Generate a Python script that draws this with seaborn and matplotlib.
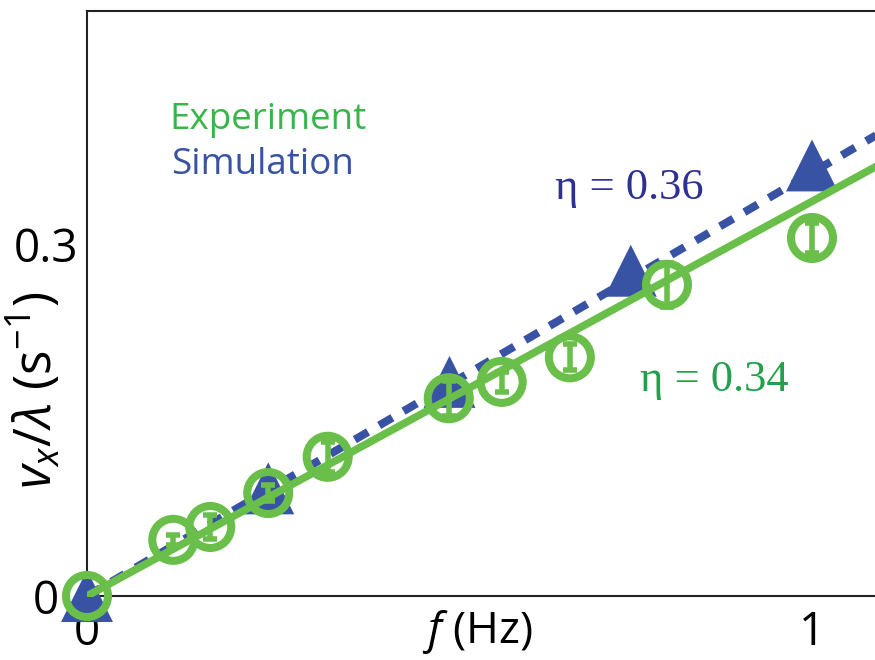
import matplotlib
matplotlib.use("Agg")
import matplotlib.pyplot as plt
import matplotlib.transforms as mtransforms
import seaborn as sns
import pandas as pd

# ---- data ----
exp_f = [0.0, 0.119, 0.170, 0.250, 0.332, 0.499, 0.572, 0.666, 0.800, 1.000]
exp_v = [0.0, 0.048, 0.059, 0.088, 0.119, 0.169, 0.183, 0.204, 0.266, 0.306]
exp_err = [0.0, 0.004, 0.010, 0.007, 0.013, 0.015, 0.0085, 0.011, 0.019, 0.013]

sim_f = [0.0, 0.25, 0.50, 0.75, 1.00]
sim_v = [0.0, 0.092, 0.183, 0.278, 0.368]

fit_f = [0.0, 1.1]
sim_fit_v = [0.0, 0.398]   # eta = 0.36
exp_fit_v = [0.0, 0.371]   # eta = 0.34

x_ticks = [0, 1]
x_ticklabels = ["0", "1"]
y_ticks = [0, 0.3]
y_ticklabels = ["0", "0.3"]

GREEN = "#6abf4b"
BLUE = "#3953a4"

sns.set_theme(style="white")
plt.rcParams["font.family"] = ["Open Sans", "DejaVu Sans"]
plt.rcParams["mathtext.fontset"] = "custom"
plt.rcParams["mathtext.rm"] = "Open Sans"
plt.rcParams["mathtext.it"] = "Open Sans:italic"

fig = plt.figure(figsize=(8.75, 6.6), dpi=100)
ax = fig.add_axes([87 / 875, 64 / 660, 788 / 875, 585 / 660])

df_exp = pd.DataFrame({"f": exp_f, "v": exp_v, "err": exp_err})
df_sim = pd.DataFrame({"f": sim_f, "v": sim_v})
df_fit = pd.DataFrame({"f": fit_f, "sim": sim_fit_v, "exp": exp_fit_v})

# simulation fit (dashed)
sns.lineplot(data=df_fit, x="f", y="sim", ax=ax, color=BLUE, lw=5.8,
             dashes=False, zorder=2)
ax.lines[-1].set_dashes((1.9, 1.6))
ax.lines[-1].set_dash_capstyle("butt")

# simulation markers
sns.scatterplot(data=df_sim, x="f", y="v", ax=ax, marker="^", s=1400,
                color=BLUE, edgecolor="none", zorder=3, clip_on=False)

# experiment fit (solid)
sns.lineplot(data=df_fit, x="f", y="exp", ax=ax, color=GREEN, lw=5.5,
             zorder=4)

# experiment error bars
ax.errorbar(exp_f, exp_v, yerr=exp_err, fmt="none", ecolor=GREEN,
            elinewidth=4, capsize=5, capthick=4, zorder=5)

# experiment markers
sns.scatterplot(data=df_exp, x="f", y="v", ax=ax, marker="o", s=915,
                facecolor="none", edgecolor=GREEN, linewidth=5.8,
                zorder=6, clip_on=False)

ax.set_xlim(0, 788 / 725)
ax.set_ylim(0, 0.5)
ax.set_xticks(x_ticks)
ax.set_xticklabels(x_ticklabels)
ax.set_yticks(y_ticks)
ax.set_yticklabels(y_ticklabels)
ax.tick_params(axis="both", direction="in", length=5, width=1,
               labelsize=33, colors="black", pad=6)
ax.tick_params(axis="x", pad=10)

# the "0" y tick label sits further left, clear of the origin markers
lbl0 = ax.get_yticklabels()[0]
lbl0.set_transform(lbl0.get_transform() +
                   mtransforms.ScaledTranslation(-0.2, 0, fig.dpi_scale_trans))

for side in ["left", "bottom", "top"]:
    ax.spines[side].set_visible(True)
    ax.spines[side].set_color("#222222")
    ax.spines[side].set_linewidth(1.5)
ax.spines["right"].set_visible(False)

ax.set_xlabel(r"$f$ (Hz)", fontsize=32, color="black")
ax.xaxis.set_label_coords(0.495, -0.02)
ax.set_ylabel(r"$v_x/\lambda$ (s$^{-1}$)", fontsize=37, color="black")
ax.yaxis.set_label_coords(-0.028, 0.352)

ax.text(0.114, 0.407, "Experiment", fontsize=26.5, color="#39b54a",
        va="center", ha="left")
ax.text(0.116, 0.368, "Simulation", fontsize=26.5, color=BLUE,
        va="center", ha="left")

ax.text(0.645, 0.349, "η = 0.36", fontsize=32, color="#2e3192",
        family=["Liberation Serif", "DejaVu Serif"], va="center", ha="left")
ax.text(0.763, 0.185, "η = 0.34", fontsize=32, color="#22a04b",
        family=["Liberation Serif", "DejaVu Serif"], va="center", ha="left")

fig.savefig("out.png", dpi=100)
